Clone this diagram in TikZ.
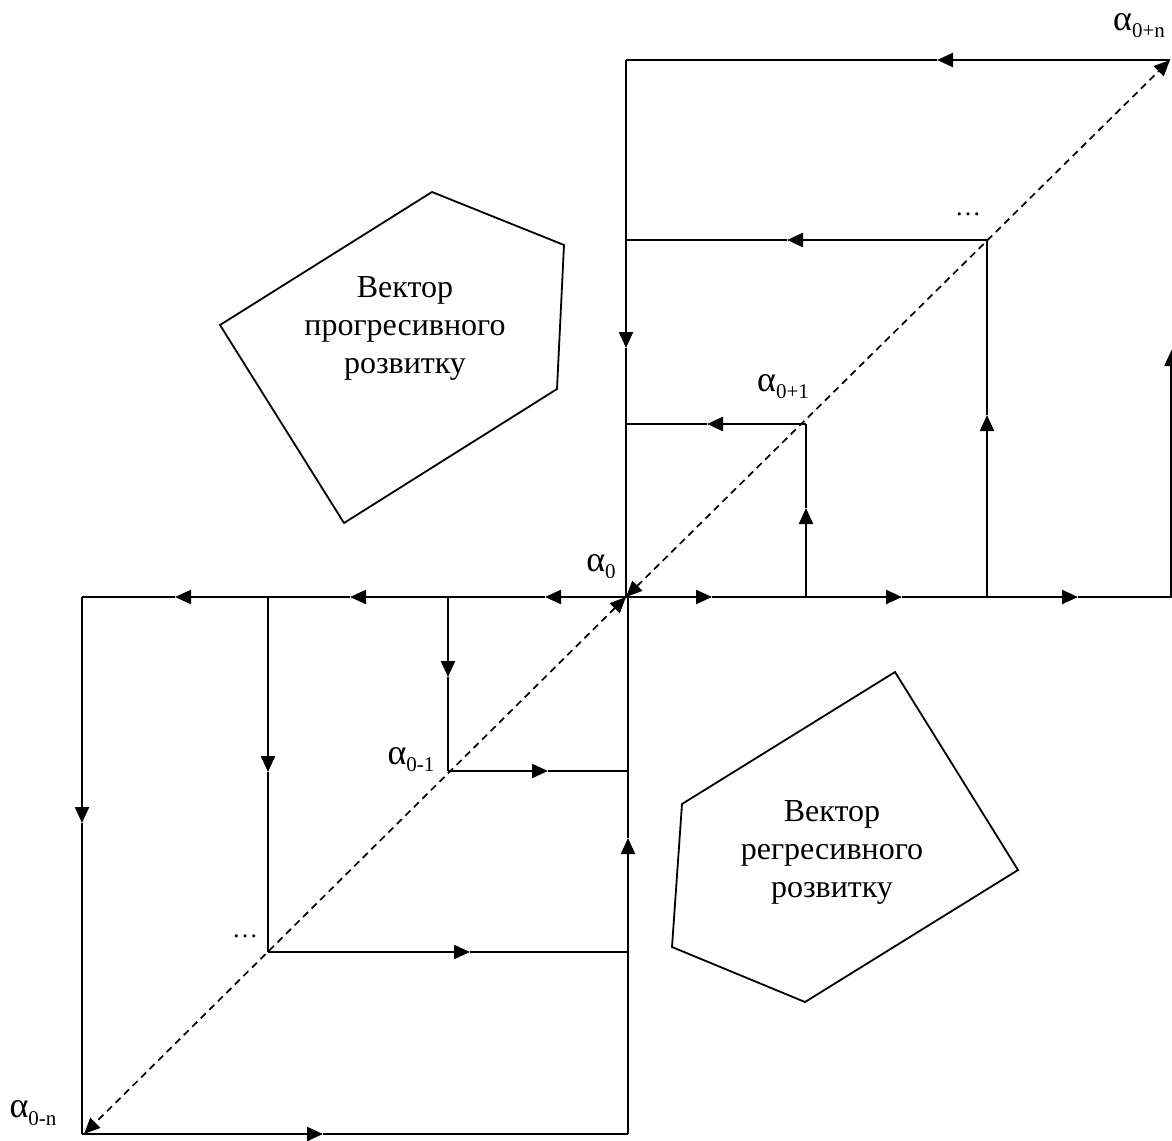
\documentclass[tikz,border=0pt]{standalone}
\usepackage{fontspec}
\setmainfont{Liberation Serif}
\usetikzlibrary{arrows.meta}
\newcommand{\alab}[1]{\fontsize{36}{36}\selectfont α\raisebox{-0.2em}{\fontsize{21}{21}\selectfont #1}}
\begin{document}
\begin{tikzpicture}[x=1pt,y=-1pt,
  ln/.style={line width=2.2pt},
  tipto/.style={line width=2.2pt,-{Triangle[length=16pt,width=14pt]}},
  dsh/.style={line width=1.7pt, dash pattern=on 7pt off 5pt,
    {Triangle[length=16pt,width=14pt]}-{Triangle[length=16pt,width=14pt]}},
  poly/.style={line width=1.8pt, line join=miter},
  txt/.style={font=\fontsize{32}{38}\selectfont, align=center, inner sep=0pt},
  lab/.style={inner sep=0pt}
]
\useasboundingbox (0,0) rectangle (1172,1140);
% key points
\coordinate (C) at (626,597);
\coordinate (N) at (1170,60);
\coordinate (M) at (84,1134);
% upper-right quadrant
\coordinate (A1) at (626,60);
\coordinate (A2) at (626,240);
\coordinate (A3) at (626,424);
\coordinate (B2) at (987,240);
\coordinate (B3) at (806,424);
\coordinate (R2) at (987,597);
\coordinate (R3) at (806,597);
\coordinate (RE) at (1171.5,597);
\coordinate (RT) at (1171.5,350);
\coordinate (t1) at (937,60);
\coordinate (t2) at (626,348);
\coordinate (t3) at (787,240);
\coordinate (t4) at (987,415);
\coordinate (t5) at (707,424);
\coordinate (t6) at (806,508);
\coordinate (h1) at (712,597);
\coordinate (h2) at (902,597);
\coordinate (h3) at (1078,597);
% lower-left quadrant
\coordinate (L1) at (82,597);
\coordinate (L2) at (268,597);
\coordinate (L3) at (448,597);
\coordinate (D1) at (82,1134);
\coordinate (D2) at (268,952);
\coordinate (D3) at (448,771);
\coordinate (E1) at (628,1134);
\coordinate (E2) at (628,952);
\coordinate (E3) at (628,771);
\coordinate (E0) at (628,597);
\coordinate (u1) at (82,823);
\coordinate (u2) at (268,772);
\coordinate (u3) at (448,677);
\coordinate (u4) at (323,1134);
\coordinate (u5) at (470,952);
\coordinate (u6) at (548,771);
\coordinate (u7) at (628,838);
\coordinate (g1) at (545,597);
\coordinate (g2) at (350,597);
\coordinate (g3) at (175,597);

% upper-right lines
\draw[tipto] (N) -- (t1); \draw[ln] (t1) -- (A1);
\draw[tipto] (A1) -- (t2); \draw[ln] (t2) -- (C);
\draw[tipto] (B2) -- (t3); \draw[ln] (t3) -- (A2);
\draw[tipto] (R2) -- (t4); \draw[ln] (t4) -- (B2);
\draw[tipto] (B3) -- (t5); \draw[ln] (t5) -- (A3);
\draw[tipto] (R3) -- (t6); \draw[ln] (t6) -- (B3);
\draw[tipto] (RE) -- (RT);
\draw[tipto] (C) -- (h1); \draw[tipto] (h1) -- (h2); \draw[tipto] (h2) -- (h3); \draw[ln] (h3) -- (RE);

% lower-left lines
\draw[tipto] (C) -- (g1); \draw[tipto] (g1) -- (g2); \draw[tipto] (g2) -- (g3); \draw[ln] (g3) -- (L1);
\draw[tipto] (L1) -- (u1); \draw[ln] (u1) -- (D1);
\draw[tipto] (D1) -- (u4); \draw[ln] (u4) -- (E1);
\draw[tipto] (E1) -- (u7); \draw[ln] (u7) -- (E0);
\draw[tipto] (L2) -- (u2); \draw[ln] (u2) -- (D2);
\draw[tipto] (D2) -- (u5); \draw[ln] (u5) -- (E2);
\draw[tipto] (L3) -- (u3); \draw[ln] (u3) -- (D3);
\draw[tipto] (D3) -- (u6); \draw[ln] (u6) -- (E3);

% dashed diagonals
\draw[dsh] (C) -- (N);
\draw[dsh] (C) -- (M);

% pentagons
\draw[poly] (432,192) -- (564,245) -- (557,389) -- (344,523) -- (220,325) -- cycle;
\draw[poly] (895,672) -- (1018,870) -- (805,1002) -- (672,947) -- (682,804) -- cycle;
\node[txt] (prog) at (405,328) {Вектор\\прогресивного\\розвитку};
\node[txt] (regr) at (832,852) {Вектор\\регресивного\\розвитку};

% labels
\node[lab] (a0) at (601,567) {\alab{0}};
\node[lab] (a1) at (783,387) {\alab{0+1}};
\node[lab] (an) at (1139,26) {\alab{0+n}};
\node[lab] (am1) at (411,760) {\alab{0-1}};
\node[lab] (amn) at (33,1113) {\alab{0-n}};
\node[lab,font=\fontsize{26}{26}\selectfont] (d1) at (968,214) {…};
\node[lab,font=\fontsize{26}{26}\selectfont] (d2) at (245,936) {…};
\end{tikzpicture}
\end{document}
